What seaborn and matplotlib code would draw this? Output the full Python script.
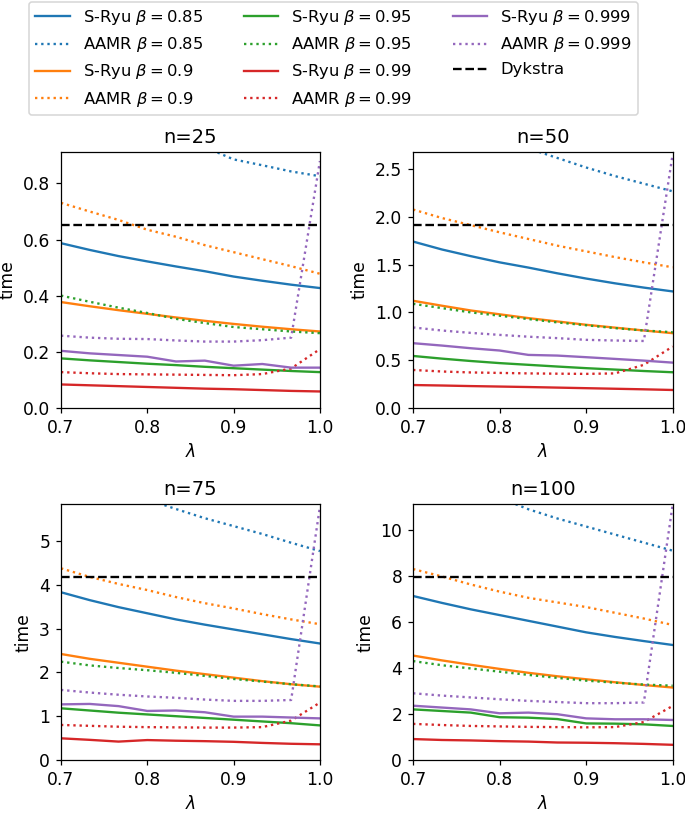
import numpy as np
import pandas as pd
import matplotlib
matplotlib.use("Agg")
import matplotlib.pyplot as plt
import seaborn as sns

lam = [0.7, 0.7333, 0.7667, 0.8, 0.8333, 0.8667, 0.9, 0.9333, 0.9667, 1.0]
betas = ["0.85", "0.9", "0.95", "0.99", "0.999"]
sizes = [25, 50, 75, 100]

dykstra = {25: 0.651, 50: 1.914, 75: 4.17, 100: 7.94}

sryu_25 = {
    "0.85": [0.587, 0.563, 0.541, 0.522, 0.504, 0.487, 0.468, 0.453, 0.439, 0.427],
    "0.9": [0.377, 0.362, 0.348, 0.335, 0.322, 0.310, 0.299, 0.289, 0.280, 0.272],
    "0.95": [0.176, 0.169, 0.163, 0.157, 0.152, 0.146, 0.141, 0.136, 0.131, 0.127],
    "0.99": [0.083, 0.080, 0.077, 0.074, 0.071, 0.068, 0.066, 0.063, 0.060, 0.058],
    "0.999": [0.203, 0.194, 0.188, 0.182, 0.165, 0.168, 0.150, 0.156, 0.143, 0.143],
}
aamr_25 = {
    "0.85": [1.26, 1.18, 1.10, 1.04, 0.98, 0.93, 0.886, 0.865, 0.843, 0.826],
    "0.9": [0.731, 0.700, 0.670, 0.635, 0.610, 0.580, 0.555, 0.530, 0.505, 0.478],
    "0.95": [0.400, 0.378, 0.357, 0.338, 0.317, 0.302, 0.288, 0.280, 0.272, 0.266],
    "0.99": [0.127, 0.123, 0.120, 0.119, 0.118, 0.117, 0.116, 0.120, 0.140, 0.209],
    "0.999": [0.257, 0.250, 0.246, 0.245, 0.240, 0.236, 0.236, 0.241, 0.250, 0.880],
}
sryu_50 = {
    "0.85": [1.743, 1.66, 1.59, 1.525, 1.47, 1.41, 1.355, 1.305, 1.26, 1.22],
    "0.9": [1.122, 1.07, 1.02, 0.98, 0.94, 0.905, 0.87, 0.84, 0.81, 0.782],
    "0.95": [0.543, 0.515, 0.49, 0.468, 0.45, 0.432, 0.415, 0.40, 0.385, 0.372],
    "0.99": [0.238, 0.233, 0.227, 0.222, 0.217, 0.211, 0.205, 0.199, 0.193, 0.186],
    "0.999": [0.677, 0.652, 0.624, 0.60, 0.554, 0.547, 0.53, 0.512, 0.494, 0.473],
}
aamr_50 = {
    "0.85": [3.22, 3.08, 2.95, 2.83, 2.72, 2.62, 2.52, 2.43, 2.35, 2.27],
    "0.9": [2.079, 1.99, 1.915, 1.84, 1.77, 1.70, 1.64, 1.58, 1.525, 1.473],
    "0.95": [1.09, 1.045, 1.0, 0.965, 0.93, 0.895, 0.865, 0.835, 0.81, 0.792],
    "0.99": [0.396, 0.38, 0.37, 0.365, 0.36, 0.357, 0.355, 0.36, 0.45, 0.642],
    "0.999": [0.842, 0.81, 0.785, 0.764, 0.745, 0.73, 0.712, 0.705, 0.70, 2.66],
}
sryu_75 = {
    "0.85": [3.83, 3.65, 3.49, 3.35, 3.21, 3.09, 2.98, 2.87, 2.76, 2.66],
    "0.9": [2.42, 2.31, 2.22, 2.13, 2.04, 1.96, 1.88, 1.80, 1.73, 1.674],
    "0.95": [1.18, 1.13, 1.08, 1.04, 1.0, 0.96, 0.92, 0.88, 0.84, 0.79],
    "0.99": [0.495, 0.46, 0.42, 0.455, 0.44, 0.43, 0.415, 0.39, 0.37, 0.358],
    "0.999": [1.27, 1.28, 1.23, 1.12, 1.13, 1.09, 0.99, 0.99, 0.97, 0.95],
}
aamr_75 = {
    "0.85": [6.75, 6.45, 6.2, 5.95, 5.73, 5.52, 5.34, 5.16, 4.96, 4.77],
    "0.9": [4.376, 4.18, 4.02, 3.88, 3.72, 3.58, 3.46, 3.33, 3.21, 3.10],
    "0.95": [2.245, 2.16, 2.10, 2.05, 1.99, 1.92, 1.85, 1.79, 1.73, 1.68],
    "0.99": [0.80, 0.78, 0.76, 0.75, 0.745, 0.74, 0.74, 0.75, 0.90, 1.31],
    "0.999": [1.60, 1.54, 1.49, 1.45, 1.42, 1.38, 1.35, 1.35, 1.37, 5.78],
}
sryu_100 = {
    "0.85": [7.13, 6.83, 6.55, 6.30, 6.05, 5.80, 5.55, 5.35, 5.17, 5.0],
    "0.9": [4.54, 4.33, 4.14, 3.96, 3.79, 3.64, 3.51, 3.38, 3.26, 3.15],
    "0.95": [2.20, 2.13, 2.06, 1.86, 1.84, 1.78, 1.59, 1.58, 1.55, 1.48],
    "0.99": [0.91, 0.87, 0.85, 0.82, 0.80, 0.76, 0.75, 0.73, 0.70, 0.66],
    "0.999": [2.36, 2.28, 2.20, 2.03, 2.06, 1.99, 1.81, 1.77, 1.77, 1.74],
}
aamr_100 = {
    "0.85": [13.0, 12.4, 11.9, 11.4, 10.9, 10.5, 10.15, 9.8, 9.45, 9.1],
    "0.9": [8.30, 7.98, 7.63, 7.32, 7.05, 6.85, 6.65, 6.40, 6.15, 5.87],
    "0.95": [4.30, 4.12, 3.98, 3.84, 3.70, 3.57, 3.45, 3.36, 3.28, 3.23],
    "0.99": [1.57, 1.52, 1.48, 1.46, 1.44, 1.43, 1.42, 1.43, 1.65, 2.35],
    "0.999": [2.90, 2.80, 2.72, 2.64, 2.57, 2.52, 2.47, 2.47, 2.50, 11.1],
}

sryu = {25: sryu_25, 50: sryu_50, 75: sryu_75, 100: sryu_100}
aamr = {25: aamr_25, 50: aamr_50, 75: aamr_75, 100: aamr_100}
colors = ["#1f77b4", "#ff7f0e", "#2ca02c", "#d62728", "#9467bd"]

plt.rcParams["font.size"] = 11

DPI = 112
fig = plt.figure(figsize=(685 / DPI, 813 / DPI), dpi=DPI)
positions = {
    25: [0.089, 0.4985, 0.378, 0.3142],
    50: [0.603, 0.4985, 0.379, 0.3142],
    75: [0.089, 0.0652, 0.378, 0.3145],
    100: [0.603, 0.0652, 0.379, 0.3145],
}

handles, labels = None, None
for n in sizes:
    ax = fig.add_axes(positions[n])
    for b, c in zip(betas, colors):
        sns.lineplot(x=lam, y=sryu[n][b], ax=ax, color=c, linestyle="-",
                     linewidth=1.5, label=rf"S-Ryu $\beta = {b}$")
        sns.lineplot(x=lam, y=aamr[n][b], ax=ax, color=c, linestyle=":",
                     linewidth=1.5, label=rf"AAMR $\beta = {b}$")
    sns.lineplot(x=lam, y=[dykstra[n]] * len(lam), ax=ax, color="black",
                 linestyle="--", linewidth=1.5, label="Dykstra")
    ax.set_xlim(0.7, 1.0)
    ax.set_ylim(0, 1.4 * dykstra[n])
    ax.set_title(f"n={n}", fontsize=12.5)
    ax.set_xlabel(r"$\lambda$")
    ax.set_ylabel("time")
    if handles is None:
        handles, labels = ax.get_legend_handles_labels()
    if ax.get_legend() is not None:
        ax.get_legend().remove()

fig.legend(handles, labels, loc="upper center", bbox_to_anchor=(0.487, 0.999),
           ncol=3, fontsize=10.5, handlelength=2.1, columnspacing=2.5,
           labelspacing=0.5, borderaxespad=0.05, borderpad=0.4)

fig.savefig("out.png", dpi=DPI)
